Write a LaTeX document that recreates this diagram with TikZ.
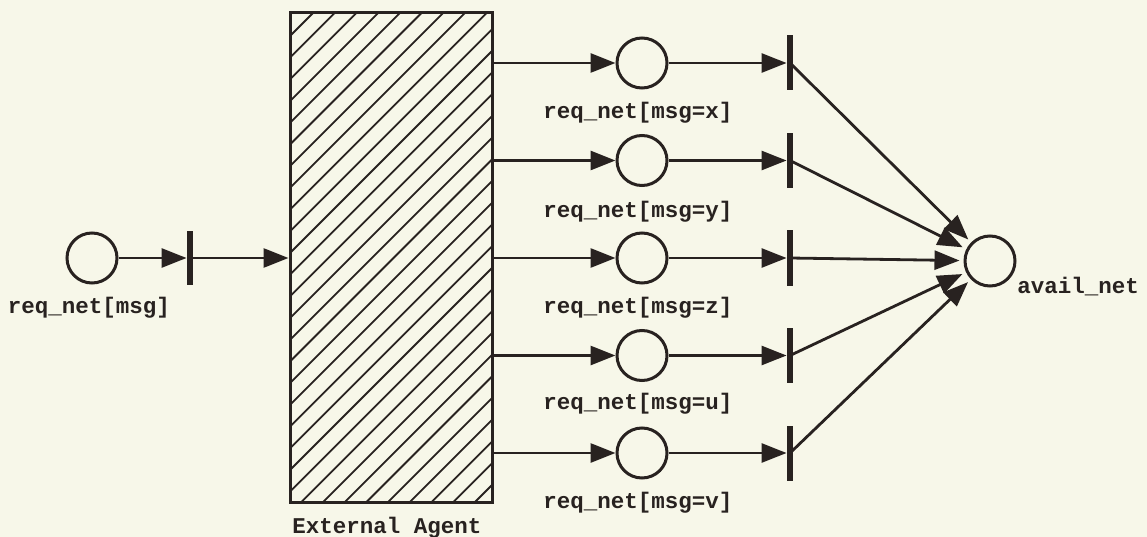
\documentclass[tikz,border=0pt]{standalone}
\usepackage{fontspec}
\newfontfamily\lbfont{Liberation Mono}[BoldFont={Liberation Mono Bold}]
\usetikzlibrary{arrows.meta}
\definecolor{ink}{RGB}{40,34,32}
\definecolor{paper}{RGB}{247,247,233}
\begin{document}
\begin{tikzpicture}[x=1pt,y=-1pt,
  place/.style={circle, draw=ink, fill=paper, line width=3pt, minimum size=50pt, inner sep=0pt},
  bar/.style={rectangle, fill=ink, minimum width=6.5pt, minimum height=55pt, inner sep=0pt},
  arc/.style={draw=ink, line width=2.8pt, -{Triangle[length=25pt,width=19pt]}},
  lbl/.style={font=\lbfont\bfseries\fontsize{22.5}{27}\selectfont, text=ink, inner sep=0pt}]
\fill[paper] (0,0) rectangle (1147,537);
\useasboundingbox (0,0) rectangle (1147,537);

% left place and transition
\node[place] (p0) at (92,258) {};
\node[lbl] (l0) at (89,308) {req\_net[msg]};
\node[bar, minimum height=53pt] (t0) at (190,258) {};

% external agent
\node[rectangle, draw=ink, line width=3pt, minimum width=202pt, minimum height=489pt, inner sep=0pt] (ext) at (391,257.5) {};
\begin{scope}
  \clip (290,13) rectangle (492,502);
  \foreach \c in {0,...,32} {
    \draw[ink, line width=1.8pt] ({326+21.7*\c-540},540) -- ({326+21.7*\c},0);
  }
\end{scope}
\node[rectangle, draw=ink, line width=3pt, minimum width=202pt, minimum height=489pt, inner sep=0pt] at (391,257.5) {};
\node[lbl] (lext) at (387,528) {External Agent};

% right column
\node[place] (p1) at (642,63) {};
\node[place] (p2) at (642,160.5) {};
\node[place] (p3) at (642,258) {};
\node[place] (p4) at (642,355.5) {};
\node[place] (p5) at (642,453) {};
\node[lbl] (l1) at (638,113) {req\_net[msg=x]};
\node[lbl] (l2) at (638,212) {req\_net[msg=y]};
\node[lbl] (l3) at (638,308) {req\_net[msg=z]};
\node[lbl] (l4) at (638,404) {req\_net[msg=u]};
\node[lbl] (l5) at (638,503) {req\_net[msg=v]};
\node[bar] (t1) at (790,63) {};
\node[bar] (t2) at (790,160.5) {};
\node[bar] (t3) at (790,258) {};
\node[bar] (t4) at (790,355.5) {};
\node[bar] (t5) at (790,453) {};

\node[place] (av) at (990,261) {};
\node[lbl] (lav) at (1078,287) {avail\_net};

% connectors
\draw[arc] (p0) -- (t0);
\draw[arc] (t0.center) -- (ext.west |- t0);
\foreach \i in {1,...,5} {
  \draw[arc] (ext.east |- p\i) -- (p\i);
  \draw[arc] (p\i) -- (t\i);
  \draw[arc, shorten >=4pt] (t\i.center) -- (av);
}
\end{tikzpicture}
\end{document}
